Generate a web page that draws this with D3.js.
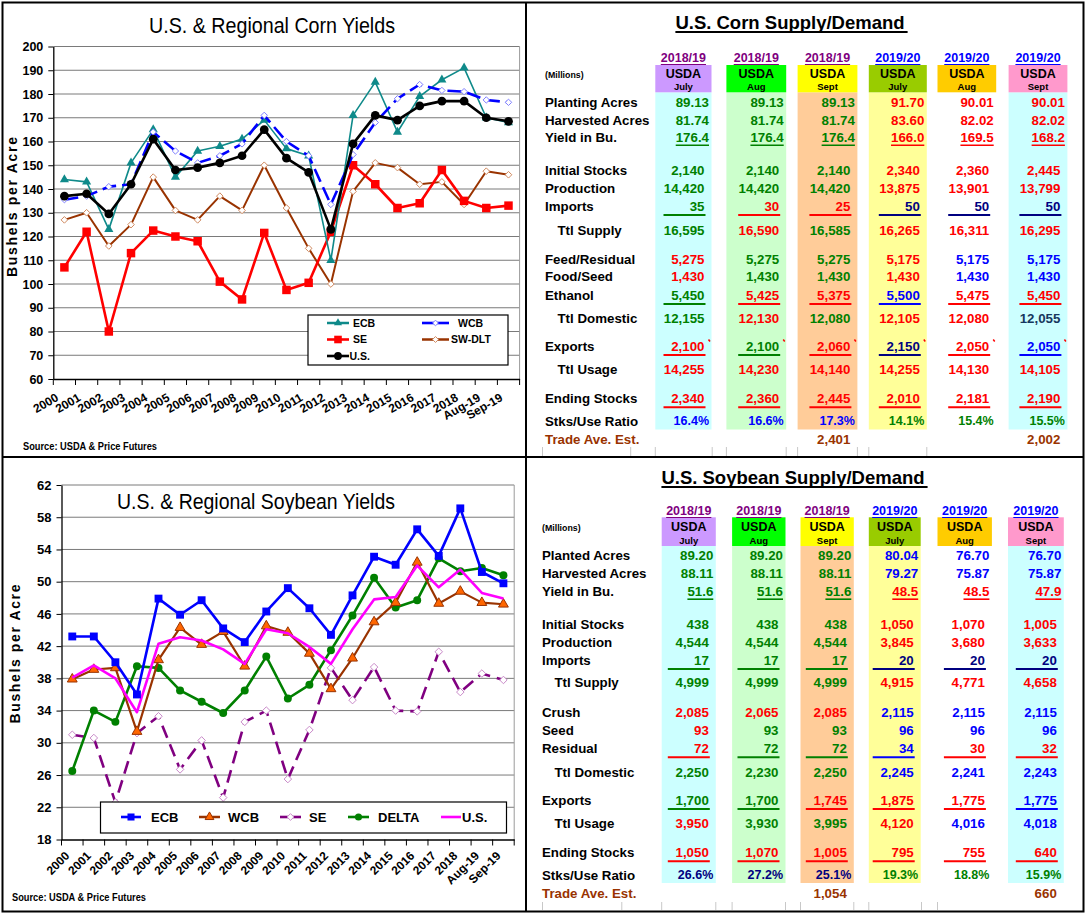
<!DOCTYPE html>
<html><head><meta charset="utf-8">
<script src="https://cdn.jsdelivr.net/npm/d3@7"></script>
<style>
body{margin:0;background:#fff}
svg{display:block}
text{font-family:"Liberation Sans",Arial,sans-serif}
</style>
</head><body>
<svg id="c" width="1088" height="916"></svg>
<script>
// ---------------- DATA ----------------
const years = ["2000","2001","2002","2003","2004","2005","2006","2007","2008","2009","2010","2011","2012","2013","2014","2015","2016","2017","2018","Aug-19","Sep-19"];

const cornECB  = [144,143,123,151,165,145,156,158,161,169,157,154,110,171,185,164,179,186,191,170,168];
const cornWCB  = [135.5,137,141,142,164,156,151,154,159,171,160,154,133.5,154.5,168,178,184,181.5,181,177.5,176.5];
const cornSE   = [107,122,80,113,122.5,120,118,101,93.5,121.5,97.5,100.5,122,150,142,132,134,148,135,132,133];
const cornSWDLT= [127,130,116,125,145,131,127,137,131,150,132,115,100,139,151,149,142,143,133.5,147.5,146];
const cornUS   = [137,138,129.5,142,161,148,149,151,154,165,153,147,123,159,171,169,175,177,177,170,168.5];
const cornYTicks = [60,70,80,90,100,110,120,130,140,150,160,170,180,190,200];

const soyECB   = [43.2,43.2,40.0,36.0,47.9,45.9,47.7,44.2,42.5,46.3,49.2,46.7,43.4,48.3,53.1,52.1,56.5,53.2,59.1,51.2,49.8];
const soyWCB   = [37.9,39.1,39.3,31.4,40.3,44.3,42.2,43.8,39.5,44.5,43.7,41.1,36.7,40.5,45.0,47.4,52.4,47.3,48.8,47.4,47.2];
const soySE    = [31.0,30.6,22.6,31.2,33.3,26.7,30.3,23.2,32.6,34.0,25.5,31.6,39.3,35.3,39.4,34.0,33.9,41.3,36.3,38.6,37.8];
const soyDELTA = [26.5,34.0,32.6,39.5,39.3,36.5,35.1,33.7,36.5,40.7,35.5,37.2,41.5,45.8,50.5,46.8,47.7,52.9,51.3,51.7,50.8];
const soyUS    = [38.1,39.6,38.0,33.8,42.3,43.1,42.7,41.6,39.8,44.1,43.6,41.9,39.8,44.1,47.8,48.1,52.0,49.3,51.5,48.6,47.9];
const soyYTicks = [18,22,26,30,34,38,42,46,50,54,58,62];

// table columns
const colYears  = ["2018/19","2018/19","2018/19","2019/20","2019/20","2019/20"];
const colMonths = ["July","Aug","Sept","July","Aug","Sept"];

// corn table values
const cornLabels = ["Planting Acres","Harvested Acres","Yield in Bu.","Initial Stocks","Production","Imports","Ttl Supply","Feed/Residual","Food/Seed","Ethanol","Ttl Domestic","Exports","Ttl Usage","Ending Stocks","Stks/Use Ratio","Trade Ave. Est."];
const cornPlanted   = [89.13,89.13,89.13,91.70,90.01,90.01];
const cornHarvested = [81.74,81.74,81.74,83.60,82.02,82.02];
const cornYield     = [176.4,176.4,176.4,166.0,169.5,168.2];
const cornInitial   = [2140,2140,2140,2340,2360,2445];
const cornProduction= [14420,14420,14420,13875,13901,13799];
const cornImports   = [35,30,25,50,50,50];
const cornSupply    = [16595,16590,16585,16265,16311,16295];
const cornFeed      = [5275,5275,5275,5175,5175,5175];
const cornFood      = [1430,1430,1430,1430,1430,1430];
const cornEthanol   = [5450,5425,5375,5500,5475,5450];
const cornDomestic  = [12155,12130,12080,12105,12080,12055];
const cornExports   = [2100,2100,2060,2150,2050,2050];
const cornUsage     = [14255,14230,14140,14255,14130,14105];
const cornEnding    = [2340,2360,2445,2010,2181,2190];
const cornRatio     = [16.4,16.6,17.3,14.1,15.4,15.5];
const cornTrade     = [null,null,2401,null,null,2002];

// soybean table values
const soyLabels = ["Planted Acres","Harvested Acres","Yield in Bu.","Initial Stocks","Production","Imports","Ttl Supply","Crush","Seed","Residual","Ttl Domestic","Exports","Ttl Usage","Ending Stocks","Stks/Use Ratio","Trade Ave. Est."];
const soyPlanted   = [89.20,89.20,89.20,80.04,76.70,76.70];
const soyHarvested = [88.11,88.11,88.11,79.27,75.87,75.87];
const soyYield     = [51.6,51.6,51.6,48.5,48.5,47.9];
const soyInitial   = [438,438,438,1050,1070,1005];
const soyProduction= [4544,4544,4544,3845,3680,3633];
const soyImports   = [17,17,17,20,20,20];
const soySupply    = [4999,4999,4999,4915,4771,4658];
const soyCrush     = [2085,2065,2085,2115,2115,2115];
const soySeed      = [93,93,93,96,96,96];
const soyResidual  = [72,72,72,34,30,32];
const soyDomestic  = [2250,2230,2250,2245,2241,2243];
const soyExports   = [1700,1700,1745,1875,1775,1775];
const soyUsage     = [3950,3930,3995,4120,4016,4018];
const soyEnding    = [1050,1070,1005,795,755,640];
const soyRatio     = [26.6,27.2,25.1,19.3,18.8,15.9];
const soyTrade     = [null,null,1054,null,null,660];

// ---------------- STYLES ----------------
const palette = {g:"#008000", r:"#ff0000", b:"#0000ff", n:"#000080", k:"#17375e", o:"#993300"};
const cornTextColors = ["gggrrr","gggrrr","gggrrr","gggrrr","gggrrr","grrnnn","grgrrr","rggrbb","rggrbb","grrbrr","grgrrk","rgrnrb","rrrrrr","rrrrrr","bbbggg","oooooo"];
const cornUnder      = [null,null,"text",null,null,"grrnnn",null,null,null,"grrbrr",null,"rgrnrb",null,"rrrrrr",null,null];
const soyTextColors  = ["gggbbb","gggbbb","gggrrr","gggrrr","gggrrr","gggnnn","gggrrr","rrrbbb","rggbbb","rggbrr","gggbbb","ggrrrb","rggrbb","rrrrrr","nnnggg","oooooo"];
const soyUnder       = [null,null,"text",null,null,"gggnnn",null,null,null,"rggbrr",null,"ggrrrb",null,"rrrrrr",null,null];
const boxFills   = ["#cc99ff","#00ff00","#ffff00","#99cc00","#ffcc00","#ff99cc"];
const stripFills = ["#ccffff","#ccffcc","#ffcc99","#ffff99",null,"#ccffff"];
const yearColors = ["#800080","#800080","#800080","#0000ff","#0000ff","#0000ff"];

const svg = d3.select("#c");
const FONT = "Liberation Sans, Arial, sans-serif";

// ---------------- FRAME ----------------
svg.append("rect").attr("x",2.5).attr("y",2.5).attr("width",1081).attr("height",909)
  .attr("fill","none").attr("stroke","#000").attr("stroke-width",2);
svg.append("line").attr("x1",526).attr("x2",526).attr("y1",2).attr("y2",912).attr("stroke","#000").attr("stroke-width",2);
svg.append("line").attr("x1",2).attr("x2",1084).attr("y1",457).attr("y2",457).attr("stroke","#000").attr("stroke-width",2);

// ---------------- CHARTS ----------------
function drawChart(cfg){
  const g = svg.append("g");
  const x = d3.scaleBand().domain(years).range([cfg.x0, cfg.x1]).padding(0);
  const y = d3.scaleLinear().domain([cfg.ticks[0], cfg.ticks[cfg.ticks.length-1]]).range([cfg.yB, cfg.yT]);
  const cx = i => x(years[i]) + x.bandwidth()/2;

  g.selectAll("line.grid").data(cfg.ticks.slice(1)).join("line")
    .attr("x1",cfg.x0).attr("x2",cfg.x1).attr("y1",d=>y(d)).attr("y2",d=>y(d))
    .attr("stroke","#7a7a7a").attr("stroke-width",1);
  g.append("line").attr("x1",cfg.x1).attr("x2",cfg.x1).attr("y1",cfg.yT).attr("y2",cfg.yB)
    .attr("stroke","#9a9a9a").attr("stroke-width",1);

  const ya = g.append("g").attr("transform",`translate(${cfg.x0},0)`)
    .call(d3.axisLeft(y).tickValues(cfg.ticks).tickSize(5).tickPadding(5).tickSizeOuter(0));
  ya.attr("font-family",FONT).attr("font-size",cfg.yFont).attr("font-weight","bold");
  ya.selectAll("text").attr("fill","#000");
  ya.selectAll("line").attr("stroke","#000");
  ya.select(".domain").attr("stroke","#000").attr("stroke-width",1.3);

  const xa = g.append("g").attr("transform",`translate(0,${cfg.yB})`)
    .call(d3.axisBottom(x).tickSize(0).tickSizeOuter(0));
  xa.attr("font-family",FONT).attr("font-size",12).attr("font-weight","bold");
  xa.select(".domain").attr("stroke","#000").attr("stroke-width",1.3);
  xa.selectAll("text").attr("y",0).attr("dy",0).attr("fill","#000")
    .attr("transform",`translate(${cfg.lx},${cfg.ly}) rotate(${cfg.angle})`)
    .style("text-anchor","end");
  g.selectAll("line.xt").data(d3.range(years.length+1)).join("line")
    .attr("x1",i=>cfg.x0 + i*x.step()).attr("x2",i=>cfg.x0 + i*x.step())
    .attr("y1",cfg.yB).attr("y2",cfg.yB+6).attr("stroke","#000").attr("stroke-width",1);

  // series
  cfg.series.forEach(s=>{
    const line = d3.line().x((d,i)=>cx(i)).y(d=>y(d));
    g.append("path").attr("d",line(s.data)).attr("fill","none")
      .attr("stroke",s.color).attr("stroke-width",s.width)
      .attr("stroke-dasharray",s.dash||null).attr("stroke-linejoin","round");
    if(s.symbol){
      const sym = d3.symbol().type(s.symbol).size(s.size);
      g.selectAll(null).data(s.data).join("path")
        .attr("transform",(d,i)=>`translate(${cx(i)},${y(d)})`)
        .attr("d",sym()).attr("fill",s.fill).attr("stroke",s.mstroke||"none").attr("stroke-width",1);
    }
  });

  // title
  g.append("text").attr("x",cfg.titleX).attr("y",cfg.titleY).attr("dy","0.35em")
    .attr("text-anchor","middle").attr("font-size",22).attr("fill","#000")
    .attr("textLength",cfg.titleLen).attr("lengthAdjust","spacingAndGlyphs").text(cfg.title);
  // y title
  g.append("text").attr("transform",`translate(${cfg.ytX},${cfg.ytY}) rotate(-90)`).attr("dy","0.35em")
    .attr("text-anchor","middle").attr("font-size",14).attr("font-weight","bold")
    .attr("textLength",cfg.ytLen).attr("lengthAdjust","spacing").text("Bushels per Acre");
  // source
  g.append("text").attr("x",cfg.srcX).attr("y",cfg.srcY).attr("dy","0.35em")
    .attr("font-size",10).attr("font-weight","bold")
    .attr("textLength",134).attr("lengthAdjust","spacingAndGlyphs").text("Source: USDA & Price Futures");

  // legend
  const L = cfg.legend;
  g.append("rect").attr("x",L.x).attr("y",L.y).attr("width",L.w).attr("height",L.h)
    .attr("fill","#fff").attr("stroke","#000").attr("stroke-width",1.2);
  L.items.forEach(it=>{
    const s = cfg.series.find(d=>d.name===it.name);
    g.append("line").attr("x1",it.lx0).attr("x2",it.lx1).attr("y1",it.y).attr("y2",it.y)
      .attr("stroke",s.color).attr("stroke-width",Math.max(2.5,s.width));
    if(s.symbol){
      g.append("path").attr("transform",`translate(${(it.lx0+it.lx1)/2},${it.y})`)
        .attr("d",d3.symbol().type(s.symbol).size(s.size*0.8)()).attr("fill",s.fill)
        .attr("stroke",s.mstroke||"none");
    }
    g.append("text").attr("x",it.tx).attr("y",it.y).attr("dy","0.35em")
      .attr("font-size",L.font).attr("font-weight","bold").text(it.label);
  });
}

drawChart({
  x0:53.3, x1:519.6, yT:46.5, yB:379, ticks:cornYTicks, yFont:12.5,
  lx:-5, ly:21, angle:-30,
  title:"U.S. & Regional Corn Yields", titleX:272, titleY:25, titleLen:246,
  ytX:12, ytY:207, ytLen:140, srcX:23, srcY:446,
  series:[
    {name:"SW-DLT", data:cornSWDLT, color:"#993300", width:2, symbol:d3.symbolDiamond2, size:28, fill:"#fff", mstroke:"#d08a60"},
    {name:"SE", data:cornSE, color:"#ff0000", width:2.6, symbol:d3.symbolSquare, size:72, fill:"#ff0000"},
    {name:"ECB", data:cornECB, color:"#0f8a8a", width:1.6, symbol:d3.symbolTriangle, size:36, fill:"#0f8a8a"},
    {name:"WCB", data:cornWCB, color:"#0000ff", width:2.6, dash:"14,6", symbol:d3.symbolDiamond2, size:26, fill:"#fff", mstroke:"#8080ff"},
    {name:"U.S.", data:cornUS, color:"#000", width:2.6, symbol:d3.symbolCircle, size:60, fill:"#000"}
  ],
  legend:{x:308, y:315, w:200, h:50, font:10.5, items:[
    {name:"ECB", label:"ECB", y:323, lx0:327, lx1:349, tx:353},
    {name:"WCB", label:"WCB", y:323, lx0:422, lx1:449, tx:458},
    {name:"SE", label:"SE", y:339.5, lx0:327, lx1:349, tx:353},
    {name:"SW-DLT", label:"SW-DLT", y:339.5, lx0:422, lx1:449, tx:451},
    {name:"U.S.", label:"U.S.", y:356, lx0:327, lx1:349, tx:349.5}
  ]}
});

drawChart({
  x0:61.5, x1:514.2, yT:485, yB:839.5, ticks:soyYTicks, yFont:13,
  lx:-2, ly:17, angle:-45,
  title:"U.S. & Regional Soybean Yields", titleX:256, titleY:501, titleLen:278,
  ytX:15, ytY:654, ytLen:139, srcX:12, srcY:897,
  series:[
    {name:"SE", data:soySE, color:"#800080", width:2.6, dash:"13,7", symbol:d3.symbolDiamond2, size:36, fill:"#fff", mstroke:"#c98ac9"},
    {name:"DELTA", data:soyDELTA, color:"#008000", width:2.6, symbol:d3.symbolCircle, size:50, fill:"#008000"},
    {name:"WCB", data:soyWCB, color:"#993300", width:2.2, symbol:d3.symbolTriangle, size:42, fill:"#ff6600", mstroke:"#993300"},
    {name:"U.S.", data:soyUS, color:"#ff00ff", width:2.6},
    {name:"ECB", data:soyECB, color:"#0000ff", width:2.6, symbol:d3.symbolSquare, size:62, fill:"#0000ff"}
  ],
  legend:{x:100.5, y:802, w:406, h:31, font:13, items:[
    {name:"ECB", label:"ECB", y:817, lx0:121, lx1:141, tx:151},
    {name:"WCB", label:"WCB", y:817, lx0:199, lx1:220, tx:228},
    {name:"SE", label:"SE", y:817, lx0:280, lx1:301, tx:309},
    {name:"DELTA", label:"DELTA", y:817, lx0:348, lx1:369, tx:378},
    {name:"U.S.", label:"U.S.", y:817, lx0:441, lx1:461, tx:462}
  ]}
});

// ---------------- TABLES ----------------
const fmtInt = d3.format(",");
function fmtRow(i, v){
  if(v===null) return "";
  if(i<=1) return d3.format(".2f")(v);
  if(i===2) return d3.format(".1f")(v);
  if(i===14) return d3.format(".1f")(v)+"%";
  return fmtInt(v);
}

function drawTable(cfg){
  const g = svg.append("g");
  // strips
  cfg.boxes.forEach((b,j)=>{
    if(stripFills[j]) g.append("rect").attr("x",b[0]).attr("y",cfg.boxY1).attr("width",b[1]-b[0])
      .attr("height",cfg.stripBottom-cfg.boxY1).attr("fill",stripFills[j]);
    g.append("rect").attr("x",b[0]).attr("y",cfg.boxY0).attr("width",b[1]-b[0])
      .attr("height",cfg.boxY1-cfg.boxY0).attr("fill",boxFills[j]);
    const cxm = (b[0]+b[1])/2;
    const yt = g.append("text").attr("x",cxm).attr("y",cfg.yearY).attr("dy","0.35em").attr("text-anchor","middle")
      .attr("font-size",12.5).attr("font-weight","bold").attr("fill",yearColors[j]).text(colYears[j]);
    const w = yt.node().getComputedTextLength();
    g.append("line").attr("x1",cxm-w/2).attr("x2",cxm+w/2).attr("y1",cfg.yearY+6.5).attr("y2",cfg.yearY+6.5)
      .attr("stroke",yearColors[j]).attr("stroke-width",1.2);
    g.append("text").attr("x",cxm).attr("y",cfg.usdaY).attr("dy","0.35em").attr("text-anchor","middle")
      .attr("font-size",12.5).attr("font-weight","bold").text("USDA");
    g.append("text").attr("x",cxm).attr("y",cfg.monY).attr("dy","0.35em").attr("text-anchor","middle")
      .attr("font-size",9.5).attr("font-weight","bold").text(colMonths[j]);
  });
  // bottom cell borders
  cfg.cellX.forEach(xv=>{
    g.append("line").attr("x1",xv).attr("x2",xv).attr("y1",cfg.cellY0).attr("y2",cfg.cellY1)
      .attr("stroke","#c8c8c8").attr("stroke-width",1);
  });
  // title
  const t = g.append("text").attr("x",cfg.titleX).attr("y",cfg.titleY).attr("dy","0.35em").attr("text-anchor","middle")
    .attr("font-size",18.5).attr("font-weight","bold").text(cfg.title);
  const tw = t.node().getComputedTextLength();
  g.append("line").attr("x1",cfg.titleX-tw/2).attr("x2",cfg.titleX+tw/2+3).attr("y1",cfg.titleY+9).attr("y2",cfg.titleY+9)
    .attr("stroke","#000").attr("stroke-width",2);
  // millions
  g.append("text").attr("x",cfg.labelX).attr("y",cfg.usdaY+1).attr("dy","0.35em")
    .attr("font-size",8.8).attr("font-weight","bold").text("(Millions)");
  // rows
  cfg.rows.forEach((vals,i)=>{
    const ry = cfg.rowY[i];
    const indent = /^Ttl/.test(cfg.labels[i]) ? 12.5 : 0;
    g.append("text").attr("x",cfg.labelX+indent).attr("y",ry).attr("dy","0.35em")
      .attr("font-size",13.3).attr("font-weight","bold")
      .attr("fill", i===15 ? palette.o : "#000").text(cfg.labels[i]);
    vals.forEach((v,j)=>{
      const dec = (i<=2 || i===14);
      const right = cfg.boxes[j][1] - (dec ? 2.5 : 7);
      const col = palette[cfg.colors[i][j]];
      const txt = g.append("text").attr("x",right).attr("y",ry).attr("dy","0.35em").attr("text-anchor","end")
        .attr("font-size", i===14 ? 12.5 : 13.3).attr("font-weight","bold").attr("fill",col).text(fmtRow(i,v));
      const u = cfg.under[i];
      if(u==="text"){
        const w = txt.node().getComputedTextLength();
        g.append("line").attr("x1",right-w).attr("x2",right).attr("y1",ry+7.5).attr("y2",ry+7.5)
          .attr("stroke",col).attr("stroke-width",1.6);
      } else if(u){
        g.append("line").attr("x1",right-41).attr("x2",right+1).attr("y1",ry+9).attr("y2",ry+9)
          .attr("stroke",palette[u[j]]).attr("stroke-width",2);
      }
      if(cfg.marks && i===11){
        g.append("line").attr("x1",right+4).attr("x2",right+5.5).attr("y1",ry-6.5).attr("y2",ry-4.5)
          .attr("stroke","#ff0000").attr("stroke-width",1.5);
      }
    });
  });
}

drawTable({
  title:"U.S. Corn Supply/Demand", titleX:790, titleY:23,
  labelX:545, yearY:58, boxY0:65, boxY1:92.3, usdaY:73.5, monY:87, stripBottom:429.5,
  boxes:[[655.3,711.5],[726.4,786.2],[797.6,857.4],[868.8,926.8],[937.5,996.2],[1008.6,1067.4]],
  rowY:[102.5,120,137.7,170.5,188.3,206,230,259,276.7,295,318.3,346,369.3,398.3,421,439],
  labels:cornLabels,
  rows:[cornPlanted,cornHarvested,cornYield,cornInitial,cornProduction,cornImports,cornSupply,cornFeed,cornFood,cornEthanol,cornDomestic,cornExports,cornUsage,cornEnding,cornRatio,cornTrade],
  colors:cornTextColors, under:cornUnder, marks:true,
  cellX:[542.5,630.7,655.3,712.2,726.4,786.2,797.6,857.4,868.8,926.8], cellY0:447, cellY1:456
});

drawTable({
  title:"U.S. Soybean Supply/Demand", titleX:793, titleY:478,
  labelX:542, yearY:511, boxY0:517.3, boxY1:546, usdaY:527, monY:541, stripBottom:883,
  boxes:[[661.7,715.8],[732.1,785.5],[800.5,853.8],[868.8,920.7],[937.5,991.9],[1008,1063.8]],
  rowY:[555.7,573.3,591.7,624.3,642.3,660,682.7,712.7,730.7,748.3,772.3,800,823.3,852.3,875,893.3],
  labels:soyLabels,
  rows:[soyPlanted,soyHarvested,soyYield,soyInitial,soyProduction,soyImports,soySupply,soyCrush,soySeed,soyResidual,soyDomestic,soyExports,soyUsage,soyEnding,soyRatio,soyTrade],
  colors:soyTextColors, under:soyUnder, marks:false,
  cellX:[542.5,621.8,661.7,715.8,732.1,785.5,800.5,853.8,868.8,921.5,937.5], cellY0:902, cellY1:910
});
</script>
</body></html>
